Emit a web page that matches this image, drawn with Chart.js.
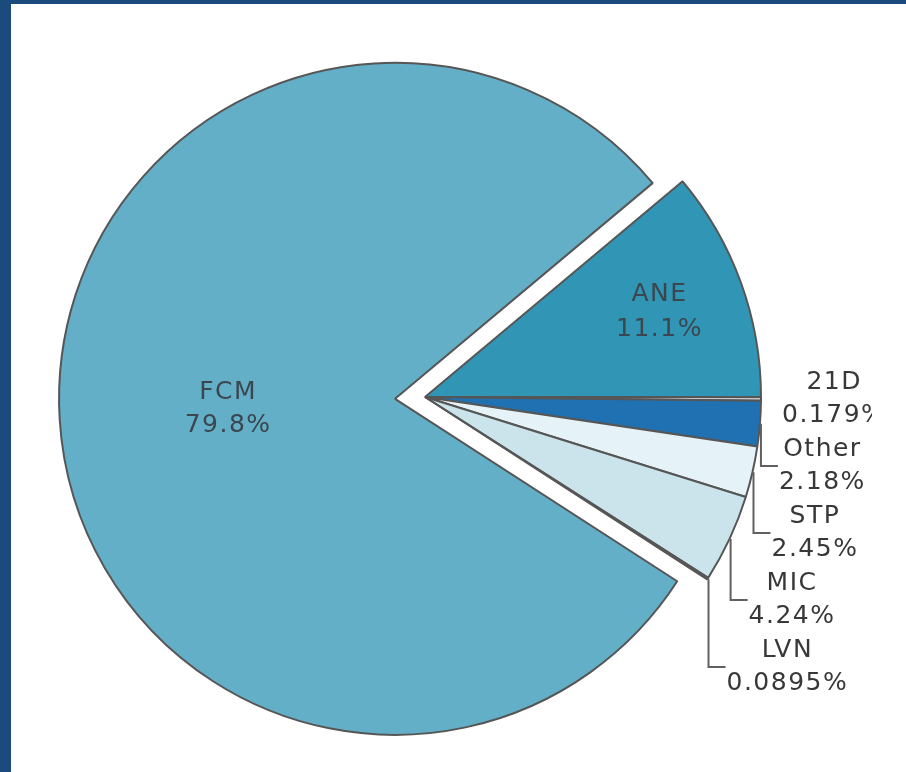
<!DOCTYPE html>
<html><head><meta charset="utf-8">
<script src="https://cdn.jsdelivr.net/npm/chart.js@4.4.1/dist/chart.umd.min.js"></script>
<style>
html,body{margin:0;padding:0;background:#1b4a7d;width:906px;height:772px;overflow:hidden}
#wrap{position:absolute;left:11px;top:4px;width:895px;height:768px;background:#fff}
</style></head><body>
<div id="wrap"><canvas id="c"></canvas></div>
<script>
// ---- data ----
const categories = ['ANE', '21D', 'Other', 'STP', 'MIC', 'LVN', 'FCM'];
const shares = [11.1, 0.179, 2.18, 2.45, 4.24, 0.0895, 79.8];   // percent
// ---- style ----
const sliceColors = ['#3195b5', '#c6c6c6', '#1f71b1', '#e5f2f7', '#cbe4ec', '#8a8a8a', '#63afc8'];
const explodePx = [0, 0, 0, 0, 0, 0, 30];
const insideLabelRadius = [0.74, null, null, null, null, null, 0.5];

const total = shares.reduce((a, b) => a + b, 0);
const firstSliceDeg = shares[0] / total * 360;

const LABEL_FONT = '25px "DejaVu Sans"';
const LETTER_SP = 1.5;
const LINE_H = 33;

const explodePlugin = {
  id: 'explode',
  afterDatasetUpdate(chart, args) {
    args.meta.data.forEach((el, i) => {
      const d = explodePx[i];
      if (!d) return;
      const mid = (el.startAngle + el.endAngle) / 2;
      el.x += Math.cos(mid) * d;
      el.y += Math.sin(mid) * d;
    });
  }
};

function drawBlock(ctx, lines, cx, cy, lh) {
  const n = lines.length;
  lines.forEach((t, k) => {
    ctx.fillText(t, cx + LETTER_SP / 2, cy + (k - (n - 1) / 2) * lh);
  });
}

const labelPlugin = {
  id: 'sliceLabels',
  afterDatasetsDraw(chart) {
    const ctx = chart.ctx;
    const meta = chart.getDatasetMeta(0);
    ctx.save();
    ctx.beginPath();
    ctx.rect(0, 0, 861, chart.height);
    ctx.clip();
    ctx.font = LABEL_FONT;
    ctx.letterSpacing = LETTER_SP + 'px';
    ctx.textAlign = 'center';
    ctx.textBaseline = 'middle';
    let prevY = -Infinity;
    meta.data.forEach((el, i) => {
      const {x, y, startAngle, endAngle, outerRadius} = el;
      const mid = (startAngle + endAngle) / 2;
      const lines = [categories[i], shares[i] + '%'];
      if (insideLabelRadius[i] != null) {
        const r = outerRadius * insideLabelRadius[i];
        ctx.fillStyle = '#3b464e';
        drawBlock(ctx, lines, x + Math.cos(mid) * r, y + Math.sin(mid) * r, i === 0 ? 35 : LINE_H);
      } else {
        const ex = x + Math.cos(mid) * (outerRadius + 1);
        const ey = y + Math.sin(mid) * (outerRadius + 1);
        const ly = Math.max(ey, prevY + 2 * LINE_H + 1);
        prevY = ly;
        const endX = ex + 17;
        if (ly - ey > 2) {
          ctx.strokeStyle = '#606060';
          ctx.lineWidth = 2;
          ctx.beginPath();
          ctx.moveTo(ex, ey);
          ctx.lineTo(ex, ly);
          ctx.lineTo(endX, ly);
          ctx.stroke();
        }
        const w = Math.max(...lines.map(t => ctx.measureText(t).width - LETTER_SP));
        const left = (ly - ey > 2 ? endX : ex + 19) + 1;
        ctx.fillStyle = '#383838';
        drawBlock(ctx, lines, left + w / 2, ly, LINE_H);
      }
    });
    ctx.restore();
  }
};

new Chart(document.getElementById('c'), {
  type: 'pie',
  data: {
    labels: categories,
    datasets: [{
      data: shares,
      backgroundColor: sliceColors,
      borderColor: '#565656',
      borderWidth: 2,
      radius: 336
    }]
  },
  options: {
    responsive: true,
    maintainAspectRatio: false,
    animation: false,
    events: [],
    rotation: 90 - firstSliceDeg,
    layout: {padding: {left: 40, right: 107, top: 45, bottom: 27}},
    plugins: {legend: {display: false}, tooltip: {enabled: false}}
  },
  plugins: [explodePlugin, labelPlugin]
});
</script>
</body></html>
